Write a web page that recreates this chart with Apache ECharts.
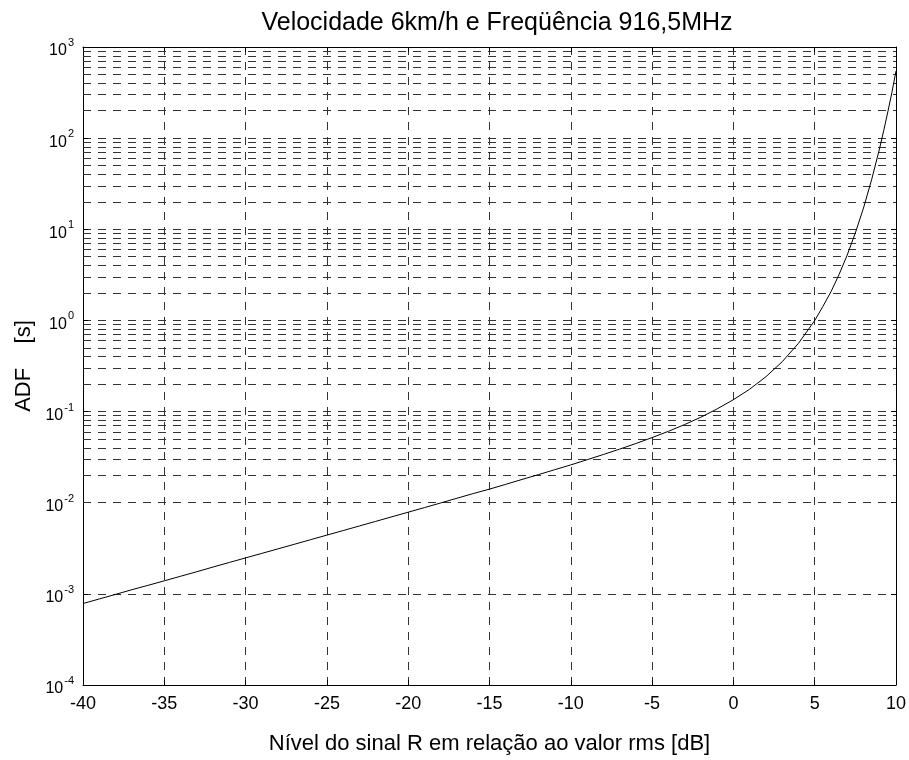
<!DOCTYPE html>
<html>
<head>
<meta charset="utf-8">
<script src="https://cdn.jsdelivr.net/npm/echarts@6/dist/echarts.min.js"></script>
<style>html,body{margin:0;padding:0;background:#fff}#c{width:909px;height:760px}</style>
</head>
<body>
<div id="c"></div>
<script>
// Signal level R relative to rms [dB]
var levelDb = [-40,-39,-38,-37,-36,-35,-34,-33,-32,-31,-30,-29,-28,-27,-26,-25,-24,-23,-22,-21,
  -20,-19,-18,-17,-16,-15,-14,-13,-12,-11,-10,-9,-8,-7,-6,-5,-4,-3,-2,-1,
  0,1,2,3,4,5,5.5,6,6.5,7,7.5,8,8.5,9,9.25,9.5,9.75,10];
// ADF [s]
var adfSeconds = [0.000783,0.000879,0.000986,0.00111,0.00124,0.00139,0.00156,0.00175,0.00197,0.00221,
  0.00248,0.00278,0.00312,0.00350,0.00393,0.00441,0.00495,0.00556,0.00624,0.00701,
  0.00787,0.00884,0.00994,0.0112,0.0126,0.0141,0.0159,0.0180,0.0203,0.0230,
  0.0260,0.0296,0.0338,0.0387,0.0446,0.0518,0.0607,0.0720,0.0867,0.107,
  0.135,0.176,0.241,0.352,0.560,0.996,1.42,2.06,3.19,5.22,9.11,17.1,34.9,78.2,122,195,318,545];
var xTicks = [-40,-35,-30,-25,-20,-15,-10,-5,0,5,10];
var yDecades = [-4,-3,-2,-1,0,1,2,3];
var titleText = 'Velocidade 6km/h e Freqüência 916,5MHz';
var xName = 'Nível do sinal R em relação ao valor rms [dB]';
var yName = 'ADF    [s]';

var points = levelDb.map(function(x,i){return [x, adfSeconds[i]];});
var minorVals = [];
for (var d = 0; d < yDecades.length - 1; d++) {
  for (var m = 2; m <= 9; m++) minorVals.push({yAxis: m * Math.pow(10, yDecades[d])});
}
var dash = [8,7];
var gridColor = '#333';
var font = 'Liberation Sans, Arial, Helvetica, sans-serif';
var chart = echarts.init(document.getElementById('c'), null, {renderer:'canvas'});
chart.setOption({
  animation: false,
  backgroundColor: '#fff',
  title: {text: titleText, left: 492, top: 6, textAlign: 'center',
    textStyle: {fontFamily: font, fontSize: 25, fontWeight: 'normal', color: '#000'}},
  grid: {left: 83, top: 47, right: 10, bottom: 68, containLabel: false},
  xAxis: [{
    type: 'value', min: xTicks[0], max: xTicks[xTicks.length-1], interval: 5,
    name: xName, nameLocation: 'middle', nameGap: 48,
    nameTextStyle: {fontFamily: font, fontSize: 22, color: '#000'},
    axisLine: {show: true, onZero: false, lineStyle: {color: '#000', width: 1}},
    axisTick: {show: true, inside: true, length: 5, lineStyle: {color: '#000'}},
    axisLabel: {fontFamily: font, fontSize: 18, color: '#000', margin: 10},
    splitLine: {show: true, lineStyle: {type: dash, color: gridColor, width: 1}}
  },{
    type: 'value', position: 'top', min: xTicks[0], max: xTicks[xTicks.length-1], interval: 5,
    axisLine: {show: true, onZero: false, lineStyle: {color: '#000', width: 1}},
    axisTick: {show: true, inside: true, length: 5, lineStyle: {color: '#000'}},
    axisLabel: {show: false}, splitLine: {show: false}
  }],
  yAxis: [{
    type: 'log', logBase: 10, min: Math.pow(10, yDecades[0]), max: Math.pow(10, yDecades[yDecades.length-1]),
    name: yName, nameLocation: 'middle', nameGap: 37, nameRotate: 90,
    nameTextStyle: {fontFamily: font, fontSize: 22, color: '#000'},
    axisLine: {show: true, onZero: false, lineStyle: {color: '#000', width: 1}},
    axisTick: {show: true, inside: true, length: 5, lineStyle: {color: '#000'}},
    axisLabel: {margin: 9, fontFamily: font, color: '#000',
      formatter: function(v){ var e = Math.round(Math.log10(v)); return '{b|10}{s|' + e + '}'; },
      rich: {b: {fontFamily: font, fontSize: 16, color: '#000', padding: [8,0,0,0]},
             s: {fontFamily: font, fontSize: 11, color: '#000', padding: [0,0,8,1]}}},
    splitLine: {show: true, lineStyle: {type: dash, color: gridColor, width: 1}}
  },{
    type: 'log', logBase: 10, position: 'right', min: Math.pow(10, yDecades[0]), max: Math.pow(10, yDecades[yDecades.length-1]),
    axisLine: {show: true, onZero: false, lineStyle: {color: '#000', width: 1}},
    axisTick: {show: true, inside: true, length: 5, lineStyle: {color: '#000'}},
    axisLabel: {show: false}, splitLine: {show: false}
  }],
  series: [{
    type: 'line', data: points, xAxisIndex: 0, yAxisIndex: 0,
    showSymbol: false, symbol: 'none', smooth: false,
    lineStyle: {color: '#000', width: 1}, silent: true, z: 5,
    markLine: {silent: true, symbol: ['none','none'], label: {show: false},
      lineStyle: {type: dash, color: gridColor, width: 1}, emphasis: {disabled: true},
      data: minorVals}
  }]
});
</script>
</body>
</html>
